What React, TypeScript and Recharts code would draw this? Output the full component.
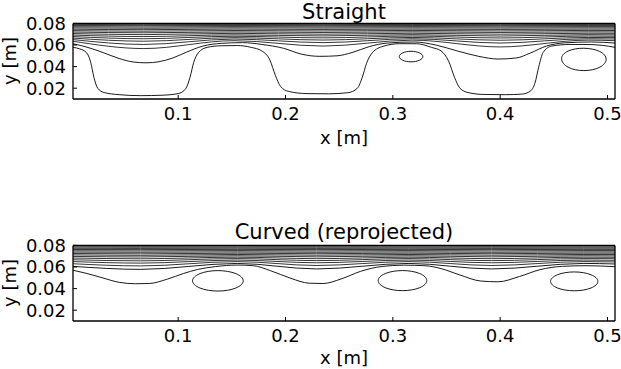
import React from 'react';
import { LineChart, Line, XAxis, YAxis } from 'recharts';

const X_DOMAIN: [number, number] = [0.002, 0.507];
const Y_DOMAIN: [number, number] = [0.01, 0.08];
const X_TICKS = [0.1, 0.2, 0.3, 0.4, 0.5];
const Y_TICKS = [0.02, 0.04, 0.06, 0.08];

// Straight: the long recirculation contour hugging the bottom
const STRAIGHT_U: [number, number][] = [
  [0.002, 0.0578], [0.008, 0.0565], [0.0145, 0.053], [0.0185, 0.044], [0.0215, 0.03],
  [0.025, 0.02], [0.031, 0.016], [0.045, 0.014], [0.065, 0.0131], [0.085, 0.0135],
  [0.1, 0.015], [0.107, 0.0195], [0.111, 0.03], [0.1145, 0.044], [0.119, 0.053],
  [0.127, 0.0578], [0.14, 0.0593], [0.155, 0.0595], [0.168, 0.0578], [0.178, 0.0545],
  [0.1855, 0.046], [0.1905, 0.032], [0.1955, 0.0215], [0.203, 0.017], [0.22, 0.015],
  [0.24, 0.0148], [0.258, 0.0158], [0.267, 0.02], [0.2715, 0.03], [0.2755, 0.043],
  [0.281, 0.053], [0.291, 0.0588], [0.306, 0.0612], [0.322, 0.0612], [0.336, 0.0578],
  [0.345, 0.0545], [0.352, 0.045], [0.3575, 0.03], [0.3625, 0.02], [0.37, 0.016],
  [0.385, 0.0142], [0.405, 0.014], [0.42, 0.0145], [0.428, 0.0172], [0.4325, 0.025],
  [0.436, 0.04], [0.44, 0.053], [0.448, 0.059], [0.465, 0.0605], [0.48, 0.0605],
  [0.495, 0.0597], [0.507, 0.0578],
];

const STRAIGHT_WAVE: [number, number][] = [
  [0.002, 0.0612], [0.015, 0.058], [0.03, 0.053], [0.045, 0.0475], [0.058, 0.0443],
  [0.07, 0.0435], [0.082, 0.0445], [0.095, 0.048], [0.108, 0.0535], [0.123, 0.059],
  [0.14, 0.0615], [0.16, 0.0622], [0.178, 0.0605], [0.198, 0.057], [0.215, 0.0515],
  [0.232, 0.0495], [0.248, 0.05], [0.262, 0.053], [0.278, 0.0585], [0.295, 0.0618],
  [0.32, 0.0628], [0.34, 0.06], [0.36, 0.0545], [0.38, 0.0495], [0.398, 0.047],
  [0.415, 0.048], [0.428, 0.0525], [0.443, 0.059], [0.46, 0.062], [0.485, 0.0628],
  [0.507, 0.0618],
];

const STRAIGHT_EDDY_SMALL: [number, number][] = [
  [0.3292, 0.0493], [0.3256, 0.0531], [0.317, 0.0547], [0.3084, 0.0531],
  [0.3048, 0.0493], [0.3084, 0.0455], [0.317, 0.0439], [0.3256, 0.0455],
];
const STRAIGHT_EDDY_RIGHT: [number, number][] = [
  [0.501, 0.047], [0.4943, 0.0548], [0.478, 0.058], [0.4617, 0.0552],
  [0.455, 0.0475], [0.4617, 0.0385], [0.478, 0.0352], [0.4943, 0.0385],
];

// Straight: packed streamlines near the top wall (peaks / troughs)
const STRAIGHT_LAYER_X = [0.002, 0.068, 0.152, 0.235, 0.318, 0.4, 0.482, 0.507];
const S3 = [0.0635, 0.0567, 0.064, 0.059, 0.0645, 0.0582, 0.0645, 0.064];
const S4 = [0.065, 0.0605, 0.0655, 0.0622, 0.0658, 0.0618, 0.0658, 0.0655];
const S5 = [0.0664, 0.0635, 0.0668, 0.0646, 0.067, 0.0644, 0.067, 0.0668];
const S6 = [0.0678, 0.0658, 0.0681, 0.0666, 0.0683, 0.0665, 0.0683, 0.0681];
const S7 = [0.0692, 0.0678, 0.0694, 0.0684, 0.0696, 0.0683, 0.0696, 0.0694];
const S8 = [0.0706, 0.0696, 0.0708, 0.07, 0.0709, 0.07, 0.0709, 0.0708];
const S9 = [0.072, 0.0713, 0.0721, 0.0716, 0.0722, 0.0716, 0.0722, 0.0721];
const S10 = [0.0733, 0.0728, 0.0734, 0.073, 0.0735, 0.073, 0.0735, 0.0734];
const S11 = [0.0746, 0.0742, 0.0747, 0.0744, 0.0747, 0.0744, 0.0747, 0.0747];
const S12 = [0.0758, 0.0755, 0.0759, 0.0757, 0.0759, 0.0757, 0.0759, 0.0759];
const S13 = [0.0769, 0.0767, 0.077, 0.0768, 0.077, 0.0768, 0.077, 0.077];
const S14 = [0.078, 0.0779, 0.078, 0.0779, 0.078, 0.0779, 0.078, 0.078];
const S15 = [0.079, 0.0789, 0.079, 0.0789, 0.079, 0.0789, 0.079, 0.079];

// Curved (reprojected)
const CURVED_WAVE: [number, number][] = [
  [0.002, 0.057], [0.015, 0.054], [0.03, 0.0498], [0.045, 0.0458], [0.06, 0.0445],
  [0.073, 0.0447], [0.09, 0.0488], [0.105, 0.054], [0.118, 0.0577], [0.135, 0.0604],
  [0.155, 0.0618], [0.17, 0.0612], [0.186, 0.0566], [0.205, 0.0495], [0.222, 0.045],
  [0.235, 0.0447], [0.252, 0.049], [0.27, 0.056], [0.29, 0.0605], [0.31, 0.0617],
  [0.33, 0.0612], [0.345, 0.0585], [0.362, 0.0528], [0.382, 0.047], [0.398, 0.0463],
  [0.418, 0.0512], [0.437, 0.0575], [0.458, 0.0606], [0.48, 0.0612], [0.507, 0.0603],
];

const CURVED_EDDY_1: [number, number][] = [
  [0.1632, 0.0472], [0.1555, 0.0546], [0.137, 0.0577], [0.1185, 0.0546],
  [0.1108, 0.0472], [0.1185, 0.0398], [0.137, 0.0367], [0.1555, 0.0398],
];
const CURVED_EDDY_2: [number, number][] = [
  [0.3341, 0.0474], [0.3267, 0.0547], [0.309, 0.0577], [0.2913, 0.0547],
  [0.2839, 0.0474], [0.2913, 0.0401], [0.309, 0.0371], [0.3267, 0.0401],
];
const CURVED_EDDY_3: [number, number][] = [
  [0.4934, 0.0467], [0.4863, 0.0535], [0.469, 0.0564], [0.4517, 0.0535],
  [0.4446, 0.0467], [0.4517, 0.0399], [0.469, 0.037], [0.4863, 0.0399],
];

const CURVED_LAYER_X = [0.002, 0.065, 0.155, 0.229, 0.315, 0.392, 0.478, 0.507];
const C2 = [0.0606, 0.0578, 0.0633, 0.0582, 0.0633, 0.0582, 0.0633, 0.0628];
const C3 = [0.063, 0.061, 0.065, 0.0614, 0.065, 0.0614, 0.065, 0.0647];
const C4 = [0.065, 0.0636, 0.0664, 0.0639, 0.0664, 0.0639, 0.0664, 0.0662];
const C5 = [0.0667, 0.0657, 0.0678, 0.0659, 0.0678, 0.0659, 0.0678, 0.0677];
const C6 = [0.0683, 0.0676, 0.0691, 0.0677, 0.0691, 0.0677, 0.0691, 0.069];
const C7 = [0.0698, 0.0693, 0.0704, 0.0694, 0.0704, 0.0694, 0.0704, 0.0703];
const C8 = [0.0712, 0.0708, 0.0716, 0.0709, 0.0716, 0.0709, 0.0716, 0.0716];
const C9 = [0.0725, 0.0722, 0.0728, 0.0723, 0.0728, 0.0723, 0.0728, 0.0728];
const C10 = [0.0738, 0.0736, 0.074, 0.0736, 0.074, 0.0736, 0.074, 0.074];
const C11 = [0.075, 0.0749, 0.0752, 0.0749, 0.0752, 0.0749, 0.0752, 0.0752];
const C12 = [0.0762, 0.0761, 0.0763, 0.0761, 0.0763, 0.0761, 0.0763, 0.0763];
const C13 = [0.0773, 0.0772, 0.0774, 0.0772, 0.0774, 0.0772, 0.0774, 0.0774];
const C14 = [0.0784, 0.0783, 0.0784, 0.0783, 0.0784, 0.0783, 0.0784, 0.0784];
const C15 = [0.0793, 0.0792, 0.0793, 0.0792, 0.0793, 0.0792, 0.0793, 0.0793];

type Pt = { x: number; y: number };
const pairs = (arr: [number, number][]): Pt[] => arr.map(([x, y]) => ({ x, y }));
const layer = (xs: number[], ys: number[]): Pt[] => xs.map((x, i) => ({ x, y: ys[i] }));

const FONT = 'DejaVu Sans, sans-serif';
const BLACK = '#000';

const straightOpen = [
  pairs(STRAIGHT_U),
  pairs(STRAIGHT_WAVE),
  ...[S3, S4, S5, S6, S7, S8, S9, S10, S11, S12, S13, S14, S15].map(ys => layer(STRAIGHT_LAYER_X, ys)),
];
const straightClosed = [pairs(STRAIGHT_EDDY_SMALL), pairs(STRAIGHT_EDDY_RIGHT)];

const curvedOpen = [
  pairs(CURVED_WAVE),
  ...[C2, C3, C4, C5, C6, C7, C8, C9, C10, C11, C12, C13, C14, C15].map(ys => layer(CURVED_LAYER_X, ys)),
];
const curvedClosed = [pairs(CURVED_EDDY_1), pairs(CURVED_EDDY_2), pairs(CURVED_EDDY_3)];

const Panel: React.FC<{ top: number; open: Pt[][]; closed: Pt[][] }> = ({ top, open, closed }) => (
  <div style={{ position: 'absolute', left: 0, top, width: 621, height: 150 }}>
    <LineChart width={621} height={150} margin={{ top: 22.4, right: 5, bottom: 21, left: 0 }}>
      <XAxis
        xAxisId="b"
        type="number"
        dataKey="x"
        domain={X_DOMAIN}
        allowDataOverflow
        ticks={X_TICKS}
        interval={0}
        height={30}
        tickSize={-4}
        tickMargin={12.7}
        tick={{ fontSize: 18, fill: BLACK, fontFamily: FONT }}
        axisLine={{ stroke: BLACK, strokeWidth: 1.3 }}
        tickLine={{ stroke: BLACK }}
      />
      <XAxis
        xAxisId="t"
        orientation="top"
        type="number"
        dataKey="x"
        domain={X_DOMAIN}
        allowDataOverflow
        ticks={X_TICKS}
        interval={0}
        height={1}
        tickSize={-4}
        tick={false}
        axisLine={{ stroke: BLACK, strokeWidth: 1.3 }}
        tickLine={{ stroke: BLACK }}
      />
      <YAxis
        yAxisId="l"
        type="number"
        domain={Y_DOMAIN}
        allowDataOverflow
        ticks={Y_TICKS}
        interval={0}
        width={73}
        tickSize={-4}
        tickMargin={11}
        tick={{ fontSize: 18, fill: BLACK, fontFamily: FONT }}
        axisLine={{ stroke: BLACK, strokeWidth: 1.3 }}
        tickLine={{ stroke: BLACK }}
      />
      <YAxis
        yAxisId="r"
        orientation="right"
        type="number"
        domain={Y_DOMAIN}
        allowDataOverflow
        ticks={Y_TICKS}
        interval={0}
        width={1}
        tickSize={-4}
        tick={false}
        axisLine={{ stroke: BLACK, strokeWidth: 1.3 }}
        tickLine={{ stroke: BLACK }}
      />
      {open.map((d, i) => (
        <Line
          key={`o-${i}`}
          xAxisId="b"
          yAxisId="l"
          data={d}
          dataKey="y"
          type="monotone"
          stroke={BLACK}
          strokeWidth={i < 2 ? 0.9 : 0.8}
          dot={false}
          activeDot={false}
          isAnimationActive={false}
        />
      ))}
      {closed.map((d, i) => (
        <Line
          key={`c-${i}`}
          xAxisId="b"
          yAxisId="l"
          data={d}
          dataKey="y"
          type="basisClosed"
          stroke={BLACK}
          strokeWidth={0.9}
          dot={false}
          activeDot={false}
          isAnimationActive={false}
        />
      ))}
    </LineChart>
  </div>
);

export default function App() {
  return (
    <div style={{ position: 'absolute', left: 0, top: 0, width: 621, height: 369, background: '#fff', overflow: 'hidden' }}>
      <Panel top={0} open={straightOpen} closed={straightClosed} />
      <Panel top={221.6} open={curvedOpen} closed={curvedClosed} />
      <svg width={621} height={369} style={{ position: 'absolute', left: 0, top: 0, pointerEvents: 'none' }}>
        <g fontFamily={FONT} fill={BLACK}>
          <text x={344} y={18.5} fontSize={21} textAnchor="middle">Straight</text>
          <text x={344} y={144} fontSize={18} textAnchor="middle">x [m]</text>
          <text transform="translate(16,61) rotate(-90)" fontSize={18} textAnchor="middle">y [m]</text>
          <text x={344} y={239} fontSize={21} textAnchor="middle">Curved (reprojected)</text>
          <text x={344} y={364} fontSize={18} textAnchor="middle">x [m]</text>
          <text transform="translate(16,283) rotate(-90)" fontSize={18} textAnchor="middle">y [m]</text>
        </g>
      </svg>
    </div>
  );
}
